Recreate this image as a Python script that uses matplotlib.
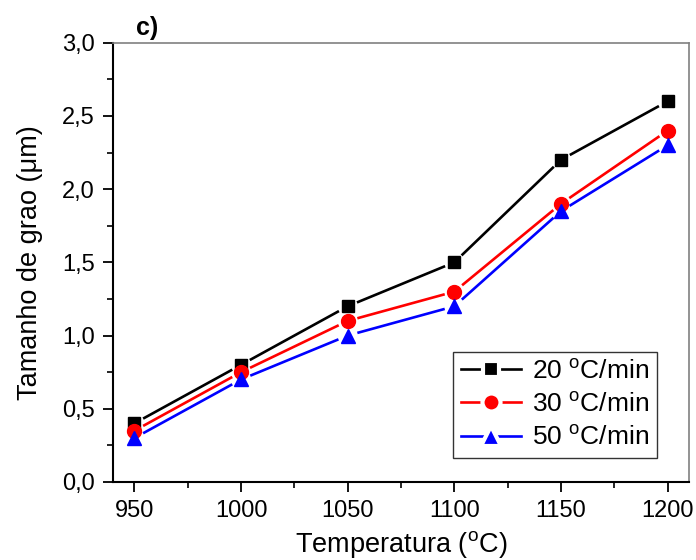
import matplotlib
matplotlib.use("Agg")
import matplotlib.pyplot as plt
import numpy as np
from matplotlib.lines import Line2D
from matplotlib.ticker import MultipleLocator, FuncFormatter

plt.rcParams['font.family'] = ['Liberation Sans', 'DejaVu Sans']
plt.rcParams['mathtext.fontset'] = 'custom'
plt.rcParams['mathtext.rm'] = 'Liberation Sans'
plt.rcParams['mathtext.it'] = 'Liberation Sans:italic'

temps = [950, 1000, 1050, 1100, 1150, 1200]
size_20 = [0.4, 0.8, 1.2, 1.5, 2.2, 2.6]
size_30 = [0.35, 0.75, 1.1, 1.3, 1.9, 2.4]
size_50 = [0.3, 0.7, 1.0, 1.2, 1.85, 2.3]
labels = [r'20 $^{\mathrm{o}}$C/min', r'30 $^{\mathrm{o}}$C/min', r'50 $^{\mathrm{o}}$C/min']

# data, colour, marker, marker size, legend marker size
series = [
    (size_20, 'black', 's', 9, 12, labels[0]),
    (size_30, 'red', 'o', 10, 13, labels[1]),
    (size_50, 'blue', '^', 10, 15, labels[2]),
]

fig = plt.figure(figsize=(6.96, 5.6), dpi=100)
ax = fig.add_axes([0.1624, 0.1393, 0.8276, 0.7845])

ax.set_xlim(940, 1210)
ax.set_ylim(0, 3.0)


def gapped_line(x, y, color, gap=10):
    # Origin-style: line segments stop short of the markers
    pts = ax.transData.transform(np.column_stack([x, y]))
    for p0, p1 in zip(pts[:-1], pts[1:]):
        d = p1 - p0
        u = d / np.hypot(*d)
        a = ax.transData.inverted().transform([p0 + u * gap, p1 - u * gap])
        ax.plot(a[:, 0], a[:, 1], color=color, linewidth=1.9, solid_capstyle='butt')


handles = []
for vals, color, mk, ms, lms, lab in series:
    gapped_line(temps, vals, color)
for vals, color, mk, ms, lms, lab in series:
    ax.plot(temps, vals, linestyle='none', marker=mk, markersize=ms, color=color)
    handles.append(Line2D([], [], color=color, linewidth=1.9, marker=mk,
                          markersize=lms, markerfacecolor=color,
                          markeredgecolor='white', markeredgewidth=3, label=lab))

ax.xaxis.set_major_locator(MultipleLocator(50))
ax.xaxis.set_minor_locator(MultipleLocator(25))
ax.yaxis.set_major_locator(MultipleLocator(0.5))
ax.yaxis.set_minor_locator(MultipleLocator(0.25))
ax.yaxis.set_major_formatter(FuncFormatter(lambda v, p: f"{v:.1f}".replace('.', ',')))

ax.tick_params(which='major', direction='out', length=7, width=1.3, labelsize=17, pad=6)
ax.tick_params(which='minor', direction='out', length=4, width=1.2)
ax.tick_params(top=False, right=False, which='both')

for side in ['left', 'bottom']:
    ax.spines[side].set_linewidth(1.5)
    ax.spines[side].set_color('black')
for side in ['top', 'right']:
    ax.spines[side].set_linewidth(1.2)
    ax.spines[side].set_color('#808080')

ax.set_xlabel(r'Temperatura ($^{\mathrm{o}}$C)', fontsize=19.5, labelpad=5)
ax.set_ylabel('Tamanho de grao (\u03bcm)', fontsize=19.5, labelpad=14)

ax.text(0.04, 1.005, 'c)', transform=ax.transAxes, fontsize=18, fontweight='bold', va='bottom')

leg = ax.legend(handles=handles, loc='lower right', bbox_to_anchor=(0.944, 0.055), borderaxespad=0,
                fontsize=19, frameon=True, fancybox=False, edgecolor='black',
                handlelength=2.3, handletextpad=0.4, labelspacing=0.35, borderpad=0.3)
leg.get_frame().set_linewidth(1.0)

fig.savefig('out.png', dpi=100)
